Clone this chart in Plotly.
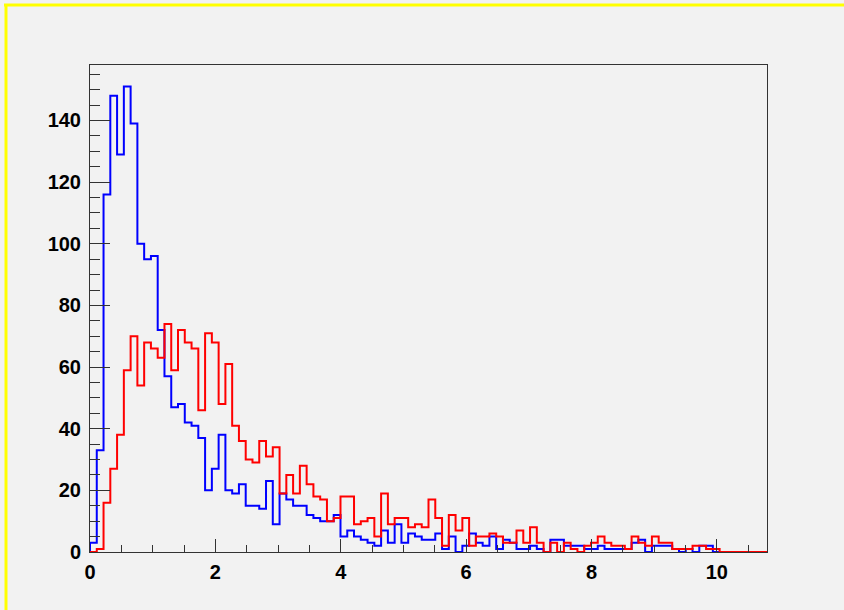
import plotly.graph_objects as go

# Histogram definition
x_min, x_max, n_bins = 0.0, 10.8, 100

blue_counts = [3, 33, 116, 148, 129, 151, 139, 100, 95, 96,
               72, 57, 47, 48, 42, 41, 37, 20, 27, 38,
               20, 19, 22, 15, 15, 14, 23, 9, 19, 17,
               15, 15, 12, 11, 10, 10, 12, 5, 7, 5,
               4, 3, 2, 7, 3, 9, 3, 6, 5, 4,
               4, 6, 1, 5, 0, 2, 6, 3, 2, 5,
               1, 4, 3, 1, 1, 2, 1, 0, 4, 4,
               2, 2, 2, 1, 1, 2, 1, 1, 1, 1,
               3, 4, 0, 2, 2, 2, 1, 0, 1, 0,
               2, 2, 0, 0, 0, 0, 0, 0, 0, 0]

red_counts = [0, 1, 16, 27, 38, 59, 70, 54, 68, 66,
              63, 74, 59, 72, 68, 66, 46, 71, 68, 48,
              61, 41, 36, 30, 29, 36, 31, 34, 19, 25,
              19, 28, 22, 18, 17, 10, 11, 18, 18, 9,
              10, 11, 5, 19, 9, 11, 11, 8, 9, 8,
              17, 11, 2, 12, 7, 11, 2, 5, 5, 6,
              5, 3, 3, 7, 3, 8, 3, 0, 3, 0,
              3, 1, 0, 2, 3, 5, 3, 2, 2, 1,
              5, 3, 2, 5, 3, 3, 1, 1, 1, 2,
              2, 1, 1, 0, 0, 0, 0, 0, 0, 0]

x_ticks = [0, 2, 4, 6, 8, 10]
y_ticks = [0, 20, 40, 60, 80, 100, 120, 140]
y_max = 158

width = (x_max - x_min) / n_bins
edges = [x_min + i * width for i in range(n_bins + 1)]


def step_xy(counts):
    xs = [edges[0]] + edges + [edges[-1]]
    ys = [0] + list(counts) + [counts[-1], 0]
    return xs, ys


fig = go.Figure()
for counts, color in [(blue_counts, "#0000ff"), (red_counts, "#ff0000")]:
    xs, ys = step_xy(counts)
    fig.add_trace(go.Scatter(x=xs, y=ys, mode="lines",
                             line=dict(color=color, width=2, shape="hv"),
                             hoverinfo="skip", showlegend=False))

bg = "#f2f2f2"
font = dict(family="Liberation Sans, Arial, sans-serif", size=20, color="#000000")

L, R, T, B = 90, 77, 65, 58
fig.update_layout(
    width=844, height=610,
    paper_bgcolor=bg, plot_bgcolor=bg,
    margin=dict(l=L, r=R, t=T, b=B),
    showlegend=False,
    font=font,
)
fig.update_xaxes(
    range=[x_min, x_max], tickvals=x_ticks,
    ticktext=[f"<b>{v}</b>" for v in x_ticks],
    ticks="inside", ticklen=13, tickcolor="#333333", tickwidth=1,
    minor=dict(dtick=0.5, ticks="inside", ticklen=7, tickcolor="#333333", showgrid=False),
    showline=True, linecolor="#333333", linewidth=1, mirror=True,
    showgrid=False, zeroline=False, ticklabelstandoff=2,
)
fig.update_yaxes(
    range=[0, y_max], tickvals=y_ticks,
    ticktext=[f"<b>{v}</b>" for v in y_ticks],
    ticks="inside", ticklen=20, tickcolor="#333333", tickwidth=1,
    minor=dict(dtick=5, ticks="inside", ticklen=10, tickcolor="#333333", showgrid=False),
    showline=True, linecolor="#333333", linewidth=1, mirror=True,
    showgrid=False, zeroline=False, ticklabelstandoff=4,
)

# yellow canvas border (top and left)
px_w, px_h = 844 - L - R, 610 - T - B
def px2paper_x(px):
    return (px - L) / px_w
def px2paper_y(py):
    return (610 - B - py) / px_h

fig.add_shape(type="line", xref="paper", yref="paper",
              x0=px2paper_x(4), x1=px2paper_x(844), y0=px2paper_y(5), y1=px2paper_y(5),
              line=dict(color="#ffff00", width=3))
fig.add_shape(type="line", xref="paper", yref="paper",
              x0=px2paper_x(6), x1=px2paper_x(6), y0=px2paper_y(4), y1=px2paper_y(610),
              line=dict(color="#ffff00", width=3))

fig.write_html("out.html",
               config={"displayModeBar": False, "staticPlot": True},
               post_script="document.body.style.margin='0';document.body.style.background='#f2f2f2';")
